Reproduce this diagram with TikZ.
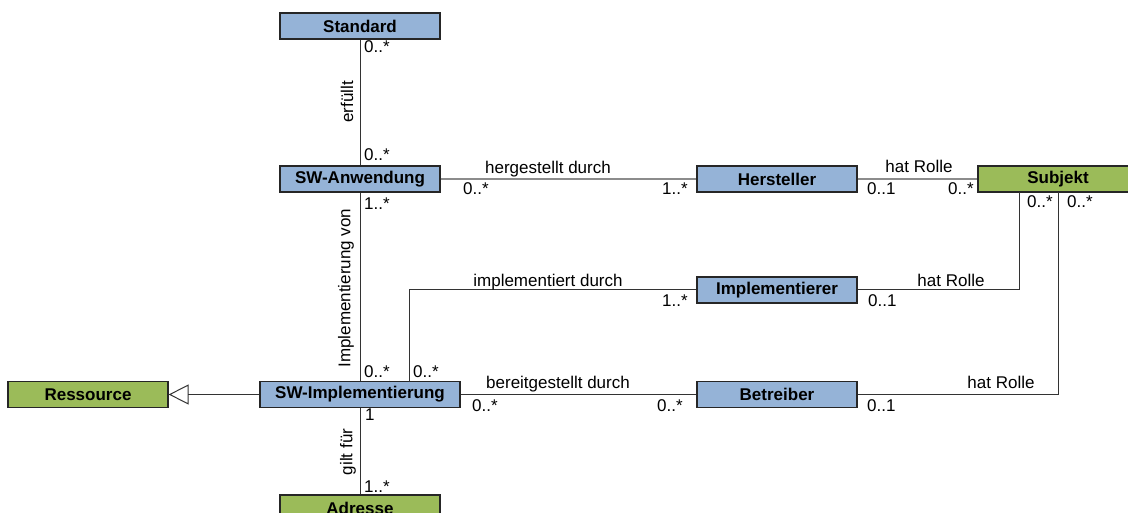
\documentclass[tikz,border=0pt]{standalone}
\usepackage{fontspec}
\setmainfont{Liberation Sans}
\usetikzlibrary{arrows.meta}
\definecolor{boxblue}{HTML}{95B3D7}
\definecolor{boxgreen}{HTML}{9BBB59}
\begin{document}
\begin{tikzpicture}[x=1pt,y=-1pt,
  cls/.style={draw=black!85, line width=1.2pt, minimum width=160pt, minimum height=26pt, inner sep=0pt, font=\fontsize{17}{20}\selectfont\bfseries},
  bluecls/.style={cls, fill=boxblue},
  greencls/.style={cls, fill=boxgreen},
  assoc/.style={draw=black!80, line width=1pt},
  grayassoc/.style={draw=black!45, line width=1.2pt},
  lbl/.style={font=\fontsize{17}{20}\selectfont, inner sep=0pt, anchor=base west},
  clbl/.style={font=\fontsize{17}{20}\selectfont, inner sep=0pt, anchor=base},
  rlbl/.style={font=\fontsize{17}{20}\selectfont, inner sep=0pt, rotate=90},
]
\useasboundingbox (0,0) rectangle (1128,513);
% classes
\node[bluecls] (std) at (360,26) {Standard};
\node[bluecls] (swa) at (360,179) {SW-Anwendung};
\node[bluecls] (her) at (777,179) {Hersteller};
\node[greencls] (sub) at (1058,179) {Subjekt};
\node[bluecls] (imp) at (777,290) {Implementierer};
\node[bluecls, minimum width=200pt] (swi) at (360,394.5) {SW-Implementierung};
\node[bluecls] (bet) at (777,394.5) {Betreiber};
\node[greencls] (res) at (88,394.5) {Ressource};
\node[greencls] (adr) at (360,508) {Adresse};
% helper coordinates
\coordinate (s1) at (1019,192);
\coordinate (s2) at (1058,192);
\coordinate (i1) at (409,382);
% connectors
\draw[assoc] (std) -- (swa);
\draw[assoc] (swa) -- (swi);
\draw[assoc] (swi) -- (adr);
\draw[grayassoc] (swa) -- (her);
\draw[grayassoc] (her) -- (sub);
\draw[assoc] (s1) |- (imp);
\draw[assoc] (s2) |- (bet);
\draw[assoc] (i1) |- (imp);
\draw[assoc] (swi) -- (bet);
\draw[assoc, -{Triangle[open, length=20pt, width=20pt, line width=1pt]}] (swi) -- (res);
% labels
\node[lbl] (m1) at (364,53) {0..*};
\node[rlbl] (r1) at (347,102) {erfüllt};
\node[lbl] (m2) at (364,161) {0..*};
\node[lbl] (m3) at (364,210) {1..*};
\node[rlbl] (r2) at (346,288) {Implementierung von};
\node[lbl] (m4) at (463,195) {0..*};
\node[clbl] (a1) at (548,174) {hergestellt durch};
\node[lbl] (m5) at (662,195) {1..*};
\node[lbl] (m6) at (867,195) {0..1};
\node[clbl] (a2) at (919,173) {hat Rolle};
\node[lbl] (m7) at (948,195) {0..*};
\node[lbl] (m8) at (1027,208) {0..*};
\node[lbl] (m9) at (1067,208) {0..*};
\node[clbl] (a3) at (548,287) {implementiert durch};
\node[lbl] (m10) at (662,306) {1..*};
\node[lbl] (m11) at (868,307) {0..1};
\node[clbl] (a4) at (951,287) {hat Rolle};
\node[lbl] (m12) at (364,377) {0..*};
\node[lbl] (m13) at (413,377) {0..*};
\node[clbl] (a5) at (558,388) {bereitgestellt durch};
\node[lbl] (m14) at (472,411) {0..*};
\node[lbl] (m15) at (657,411) {0..*};
\node[lbl] (m16) at (867,411) {0..1};
\node[clbl] (a6) at (1001,388) {hat Rolle};
\node[lbl] (m17) at (365,420) {1};
\node[rlbl] (r3) at (348,452) {gilt für};
\node[lbl] (m18) at (364,492) {1..*};
\end{tikzpicture}
\end{document}
